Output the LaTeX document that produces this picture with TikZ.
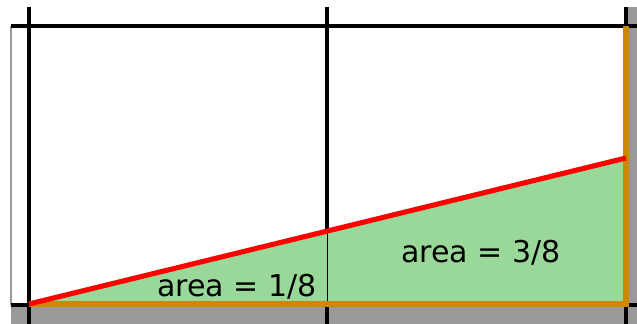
\documentclass[tikz,border=0pt]{standalone}
\usepackage{fontspec}
\setmainfont{DejaVu Sans}
\definecolor{framegray}{RGB}{153,153,153}
\definecolor{areagreen}{RGB}{154,216,154}
\definecolor{edgeorange}{RGB}{204,136,0}
\begin{document}
\begin{tikzpicture}[
  x=0.02cm, y=-0.02cm,
  gridline/.style={draw=black, line width=2pt},
  slope/.style={draw=red, line width=2.9pt},
  border/.style={draw=edgeorange, line width=3pt},
  label/.style={font=\fontsize{17.1}{20}\selectfont, inner sep=0pt}
]
\useasboundingbox (0,0) rectangle (637,324);

% Gray margin at right and bottom
\fill[framegray] (11,305) rectangle (637,324);
\fill[framegray] (627,7) rectangle (637,324);
\draw[framegray, line width=0.7pt] (11,26) -- (11,305);

% Corner points of the areas
\coordinate (O) at (29,304);
\coordinate (M) at (327,231);
\coordinate (Mb) at (327,304);
\coordinate (R) at (626,158);
\coordinate (Rb) at (626,304);

% Green areas under the line
\fill[areagreen] (O) -- (M) -- (R) -- (Rb) -- cycle;

% Grid lines
\draw[gridline] (11,26) -- (637,26);
\draw[gridline] (11,305) -- (29,305);
\draw[gridline] (627,305) -- (637,305);
\draw[gridline] (29,7) -- (29,324);
\draw[gridline] (327,7) -- (M);
\draw[gridline] (327,305) -- (327,324);
\draw[gridline] (626,7) -- (626,26);
\draw[gridline] (626,305) -- (626,324);
\draw[black, line width=0.5pt] (M) -- (Mb);

% Orange edges and red line
\draw[border] (O) -- (Rb) -- (626,26);
\draw[slope] (O) -- (R);

% Labels
\node[label] (left) at (237,287) {area = 1/8};
\node[label] (right) at (481,253) {area = 3/8};

\end{tikzpicture}
\end{document}
